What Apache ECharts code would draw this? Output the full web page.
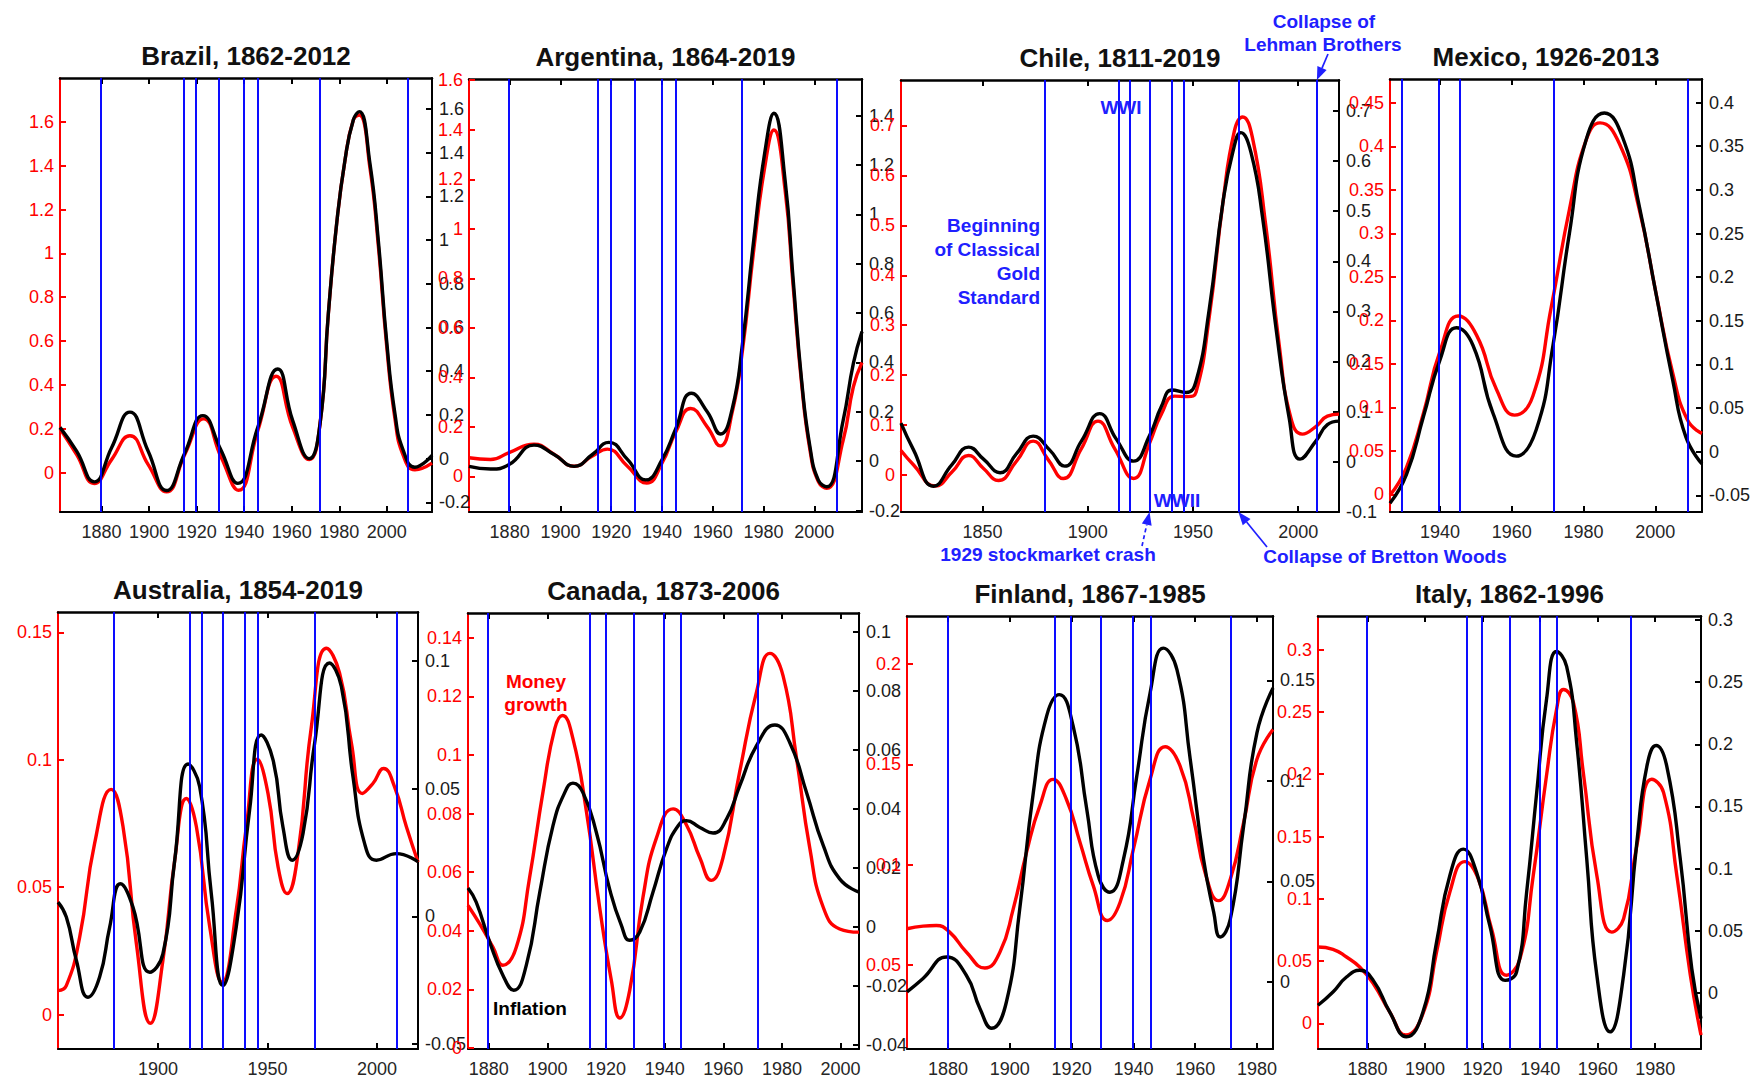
<!DOCTYPE html>
<html><head><meta charset="utf-8">
<script src="https://cdn.jsdelivr.net/npm/echarts@6/dist/echarts.min.js"></script>
<style>html,body{margin:0;padding:0;background:#fff}#c{width:1758px;height:1081px}</style>
</head><body><div id="c"></div>
<script>
// ---------------- DATA ----------------
const eventYears = [1879.8, 1914.6, 1919.8, 1929.4, 1939.8, 1945.6, 1971.6, 2008.9];

const brazilMoney = [[1862.5,0.199],[1869.5,0.082],[1876.9,-0.05],[1884.2,0.059],[1891.9,0.168],[1899.6,0.036],[1907.3,-0.088],[1915,0.082],[1922.9,0.245],[1930.4,0.067],[1937.6,-0.081],[1945.7,0.191],[1953.4,0.439],[1960.4,0.206],[1967.4,0.059],[1971.9,0.223],[1975.4,0.725],[1978.9,1.136],[1982.4,1.425],[1985.9,1.608],[1988.4,1.631],[1992.9,1.389],[1996.4,1.037],[1999.9,0.581],[2003.4,0.247],[2006.9,0.078],[2011.8,0.013],[2019,0.043]];
const brazilInflation = [[1862.5,0.143],[1869.5,0.034],[1876.9,-0.106],[1884.2,0.05],[1891.9,0.213],[1899.6,0.034],[1907.3,-0.146],[1915,0.026],[1922.6,0.197],[1930.1,0.042],[1937.3,-0.113],[1945.7,0.143],[1954.1,0.41],[1960.4,0.174],[1967.4,0.0],[1971.9,0.16],[1975.4,0.664],[1978.9,1.076],[1982.4,1.366],[1985.9,1.549],[1988.4,1.587],[1992.9,1.35],[1996.4,0.999],[1999.9,0.541],[2003.4,0.206],[2006.9,0.038],[2011.8,-0.039],[2019,0.015]];
const brazilYearTicks = [1880,1900,1920,1940,1960,1980,2000];
const brazilMoneyTicks = [0,0.2,0.4,0.6,0.8,1,1.2,1.4,1.6];
const brazilInflationTicks = [-0.2,0,0.2,0.4,0.6,0.8,1,1.2,1.4,1.6];

const argentinaMoney = [[1864,0.075],[1872.5,0.068],[1879.8,0.096],[1889.6,0.13],[1897.5,0.089],[1905.4,0.041],[1912.6,0.082],[1918.5,0.11],[1926.4,0.041],[1934,-0.027],[1940.1,0.055],[1945.4,0.178],[1951.3,0.274],[1957.9,0.199],[1962.9,0.123],[1967.7,0.26],[1971.7,0.507],[1976.2,0.918],[1980.5,1.25],[1984.1,1.399],[1988.5,1.157],[1991.7,0.766],[1995,0.376],[1998.3,0.107],[2001.6,-0.021],[2004.9,-0.048],[2011.4,0.147],[2015.4,0.362],[2018.8,0.46]];
const argentinaInflation = [[1864,-0.021],[1872.5,-0.032],[1879.8,-0.014],[1889.6,0.065],[1897.5,0.027],[1905.4,-0.021],[1912.6,0.027],[1919.1,0.076],[1926.4,0.007],[1933.6,-0.076],[1940.1,0.007],[1945.4,0.13],[1951.6,0.275],[1957.9,0.199],[1963.1,0.11],[1967.7,0.213],[1971.7,0.474],[1976.2,0.9],[1980.5,1.25],[1984.1,1.409],[1988.5,1.139],[1991.7,0.734],[1995,0.329],[1998.3,0.058],[2001.6,-0.077],[2004.9,-0.104],[2011.4,0.166],[2015.4,0.396],[2018.8,0.525]];
const argentinaYearTicks = [1880,1900,1920,1940,1960,1980,2000];
const argentinaMoneyTicks = [0,0.2,0.4,0.6,0.8,1,1.2,1.4,1.6];
const argentinaInflationTicks = [-0.2,0,0.2,0.4,0.6,0.8,1,1.2,1.4];

const chileMoney = [[1811.3,0.049],[1817.3,0.02],[1827.6,-0.022],[1835.5,0.006],[1843.4,0.039],[1850.5,0.013],[1857.6,-0.011],[1866.2,0.028],[1874.1,0.068],[1881.2,0.031],[1888.4,-0.007],[1897,0.053],[1904.9,0.108],[1912.8,0.053],[1921.8,-0.007],[1929.4,0.064],[1935,0.122],[1941.3,0.158],[1947.6,0.157],[1951.5,0.166],[1957.8,0.318],[1964.2,0.544],[1969.7,0.689],[1973.6,0.717],[1978.3,0.675],[1984.6,0.5],[1991,0.26],[1996.5,0.115],[2002,0.082],[2008.4,0.097],[2013.9,0.118],[2019.4,0.122]];
const chileInflation = [[1811.3,0.077],[1817.3,0.023],[1826.8,-0.049],[1835.5,-0.006],[1843.4,0.029],[1850.5,0.005],[1858.4,-0.022],[1866.2,0.016],[1874.1,0.051],[1882,0.023],[1889.1,-0.009],[1897,0.041],[1905.7,0.096],[1913.6,0.045],[1921.8,0.001],[1929.4,0.052],[1935,0.11],[1940.1,0.143],[1946.8,0.138],[1951.5,0.161],[1957.8,0.306],[1964.2,0.516],[1968.9,0.617],[1972.8,0.657],[1977.6,0.617],[1983.1,0.487],[1989.4,0.269],[1995.7,0.088],[2000.9,0.005],[2008.4,0.041],[2013.9,0.074],[2019.4,0.081]];
const chileYearTicks = [1850,1900,1950,2000];
const chileMoneyTicks = [0,0.1,0.2,0.3,0.4,0.5,0.6,0.7];
const chileInflationTicks = [-0.1,0,0.1,0.2,0.3,0.4,0.5,0.6,0.7];

const mexicoMoney = [[1926.1,-0.001],[1930.7,0.031],[1935.4,0.093],[1940,0.164],[1945.1,0.205],[1950.2,0.183],[1955.7,0.121],[1960.8,0.091],[1965.9,0.113],[1971,0.215],[1976.1,0.328],[1980.7,0.407],[1984.6,0.427],[1990,0.403],[1995.5,0.328],[2000.2,0.231],[2004.8,0.14],[2009,0.085],[2013,0.07]];
const mexicoInflation = [[1926.1,-0.059],[1930.7,-0.026],[1935.4,0.04],[1940,0.105],[1944.6,0.142],[1949.2,0.122],[1954.8,0.044],[1961.3,-0.005],[1966.8,0.025],[1971.5,0.122],[1976.1,0.251],[1980.7,0.357],[1985.8,0.388],[1990.9,0.36],[1995.5,0.282],[2000.2,0.181],[2004.8,0.083],[2008.5,0.017],[2013,-0.014]];
const mexicoYearTicks = [1940,1960,1980,2000];
const mexicoMoneyTicks = [0,0.05,0.1,0.15,0.2,0.25,0.3,0.35,0.4,0.45];
const mexicoInflationTicks = [-0.05,0,0.05,0.1,0.15,0.2,0.25,0.3,0.35,0.4];

const australiaMoney = [[1854.3,0.0094],[1858.1,0.0114],[1864.2,0.0304],[1871,0.0671],[1878.6,0.0884],[1884,0.0737],[1890.1,0.0278],[1896.5,-0.0034],[1902.2,0.0212],[1907.6,0.0606],[1912.9,0.0848],[1917.5,0.0737],[1923.6,0.0344],[1929.3,0.0127],[1935.7,0.0409],[1940.3,0.0737],[1945.3,0.1002],[1950.2,0.0868],[1954.8,0.058],[1958.9,0.0475],[1963.9,0.0632],[1970,0.113],[1976.9,0.1438],[1982.9,0.134],[1988.3,0.1065],[1993.3,0.0868],[1998.1,0.0907],[2003,0.0966],[2008,0.0894],[2013.4,0.0737],[2018.7,0.0599]];
const australiaInflation = [[1854.3,0.0056],[1858.1,-0.0003],[1862.7,-0.0173],[1868,-0.0317],[1873.3,-0.0238],[1877.9,-0.0042],[1882.8,0.0128],[1888.5,0.0037],[1896.2,-0.0219],[1902.2,-0.0147],[1907.6,0.022],[1913.7,0.0597],[1919,0.0508],[1924.3,0.0089],[1929.6,-0.0271],[1935.7,-0.0042],[1941.8,0.0417],[1947.1,0.0711],[1952.5,0.0613],[1957,0.0351],[1961.3,0.022],[1966.2,0.0325],[1971.5,0.0679],[1978.3,0.0993],[1983.7,0.0901],[1989,0.0548],[1994.3,0.0286],[1999.7,0.022],[2008.8,0.0246],[2018.7,0.0214]];
const australiaYearTicks = [1900,1950,2000];
const australiaMoneyTicks = [0,0.05,0.1,0.15];
const australiaInflationTicks = [-0.05,0,0.05,0.1];

const canadaMoney = [[1872.9,0.0486],[1876.9,0.0423],[1881.4,0.0344],[1884.8,0.0282],[1889.4,0.0344],[1893.9,0.0581],[1898.5,0.0875],[1902.5,0.109],[1905.1,0.1135],[1908.7,0.1056],[1913.3,0.0807],[1917.8,0.048],[1921.8,0.0231],[1924.7,0.0102],[1928.1,0.0198],[1932.6,0.0514],[1937.2,0.0717],[1942.9,0.0816],[1947.4,0.0762],[1952,0.0649],[1955.9,0.0572],[1959.9,0.0649],[1965.6,0.0943],[1971.3,0.1214],[1975.9,0.1347],[1980.4,0.127],[1985,0.0988],[1989.5,0.0683],[1994.1,0.048],[1999.7,0.0406],[2006.3,0.0395]];
const canadaInflation = [[1872.9,0.0132],[1875.7,0.0084],[1880.3,-0.0051],[1884.8,-0.0163],[1888.5,-0.0214],[1892.8,-0.0129],[1897.4,0.0118],[1901.9,0.0343],[1905.9,0.0455],[1908.7,0.0487],[1912.1,0.0455],[1916.7,0.032],[1921.2,0.0129],[1925.2,0.0006],[1928.1,-0.0045],[1931.5,-0.0017],[1936,0.0118],[1940.6,0.0264],[1944.6,0.0343],[1947.4,0.036],[1952,0.0337],[1956.5,0.0318],[1961.1,0.0365],[1965.6,0.0478],[1971.3,0.0613],[1977.6,0.0684],[1982.7,0.0624],[1988.4,0.0455],[1994.1,0.0276],[1999.7,0.0163],[2006.3,0.0118]];
const canadaYearTicks = [1880,1900,1920,1940,1960,1980,2000];
const canadaMoneyTicks = [0,0.02,0.04,0.06,0.08,0.1,0.12,0.14];
const canadaInflationTicks = [-0.04,-0.02,0,0.02,0.04,0.06,0.08,0.1];

const finlandMoney = [[1866.7,0.068],[1871.9,0.0693],[1876.2,0.0696],[1880.5,0.0663],[1885.9,0.0564],[1891.9,0.0484],[1896.8,0.0564],[1901.1,0.0779],[1905.4,0.1061],[1909.7,0.1293],[1914,0.1425],[1918.3,0.1326],[1922.7,0.1111],[1927,0.0895],[1931.6,0.0721],[1935.7,0.0812],[1940,0.1077],[1945.4,0.1425],[1950.3,0.1588],[1955.1,0.1492],[1959.5,0.1227],[1963.2,0.0961],[1967.6,0.082],[1971.4,0.0928],[1975.7,0.121],[1980,0.1525],[1985.2,0.1674]];
const finlandInflation = [[1866.7,-0.005],[1871.9,0.0017],[1879.5,0.0124],[1885.9,0.0033],[1890.3,-0.0132],[1894.1,-0.0231],[1898.9,-0.0099],[1903.2,0.0363],[1907.6,0.0942],[1911.9,0.1322],[1916,0.1429],[1920.5,0.1272],[1924.9,0.0859],[1928.6,0.0529],[1932.4,0.0446],[1936.8,0.0611],[1941.1,0.1024],[1945.4,0.1437],[1949.7,0.166],[1954.1,0.1553],[1958.4,0.1107],[1962.7,0.0611],[1966,0.0347],[1968.1,0.0223],[1971.4,0.0314],[1975.7,0.0776],[1980,0.1239],[1985.2,0.1462]];
const finlandYearTicks = [1880,1900,1920,1940,1960,1980];
const finlandMoneyTicks = [0.05,0.1,0.15,0.2];
const finlandInflationTicks = [0,0.05,0.1,0.15];

const italyMoney = [[1862.8,0.0613],[1868,0.0595],[1872.7,0.0533],[1877.3,0.0453],[1882,0.032],[1887.7,0.0093],[1893.3,-0.0093],[1899.3,0.008],[1904,0.0573],[1908.6,0.1053],[1913.8,0.1299],[1918.5,0.116],[1923.1,0.076],[1928.3,0.0387],[1933,0.052],[1937.6,0.1187],[1942.2,0.1987],[1945.7,0.252],[1948.1,0.268],[1951.6,0.2573],[1955,0.2013],[1959.7,0.1187],[1964.9,0.0733],[1969,0.084],[1973.6,0.1427],[1978.8,0.196],[1982.9,0.1853],[1987.5,0.1187],[1992.2,0.0387],[1995.9,-0.0093]];
const italyInflation = [[1862.8,-0.0099],[1868,0.0008],[1872.7,0.0128],[1877.3,0.0182],[1882,0.0101],[1887.7,-0.0152],[1893.5,-0.0353],[1899.3,-0.0152],[1904,0.0409],[1908.6,0.0943],[1913.3,0.1157],[1917.9,0.097],[1922.5,0.0542],[1927.8,0.0101],[1931.8,0.0168],[1935.3,0.0809],[1938.8,0.1611],[1942.2,0.2358],[1945.7,0.2746],[1949.2,0.2626],[1952.7,0.2011],[1956.2,0.1076],[1959.7,0.0142],[1964.3,-0.0313],[1969,0.0142],[1973.6,0.121],[1977.1,0.1824],[1980.3,0.199],[1984,0.1824],[1988.7,0.1076],[1992.7,0.0195],[1995.9,-0.0206]];
const italyYearTicks = [1880,1900,1920,1940,1960,1980];
const italyMoneyTicks = [0,0.05,0.1,0.15,0.2,0.25,0.3];
const italyInflationTicks = [0,0.05,0.1,0.15,0.2,0.25,0.3];

const panelDefs = [
  {title:'Brazil, 1862-2012', money:brazilMoney, inflation:brazilInflation, yearTicks:brazilYearTicks, moneyTicks:brazilMoneyTicks, inflationTicks:brazilInflationTicks, yearRange:[1862.5,2019], moneyRange:[-0.18,1.80], inflationRange:[-0.244,1.741]},
  {title:'Argentina, 1864-2019', money:argentinaMoney, inflation:argentinaInflation, yearTicks:argentinaYearTicks, moneyTicks:argentinaMoneyTicks, inflationTicks:argentinaInflationTicks, yearRange:[1864,2018.8], moneyRange:[-0.144,1.605], inflationRange:[-0.206,1.548]},
  {title:'Chile, 1811-2019', money:chileMoney, inflation:chileInflation, yearTicks:chileYearTicks, moneyTicks:chileMoneyTicks, inflationTicks:chileInflationTicks, yearRange:[1811.3,2019.4], moneyRange:[-0.074,0.791], inflationRange:[-0.1005,0.762]},
  {title:'Mexico, 1926-2013', money:mexicoMoney, inflation:mexicoInflation, yearTicks:mexicoYearTicks, moneyTicks:mexicoMoneyTicks, inflationTicks:mexicoInflationTicks, yearRange:[1926.1,2013], moneyRange:[-0.0204,0.4775], inflationRange:[-0.069,0.427]},
  {title:'Australia, 1854-2019', money:australiaMoney, inflation:australiaInflation, yearTicks:australiaYearTicks, moneyTicks:australiaMoneyTicks, inflationTicks:australiaInflationTicks, yearRange:[1854.3,2018.7], moneyRange:[-0.0135,0.158], inflationRange:[-0.052,0.1193]},
  {title:'Canada, 1873-2006', money:canadaMoney, inflation:canadaInflation, yearTicks:canadaYearTicks, moneyTicks:canadaMoneyTicks, inflationTicks:canadaInflationTicks, yearRange:[1872.9,2006.3], moneyRange:[-0.0004,0.1485], inflationRange:[-0.0413,0.1063]},
  {title:'Finland, 1867-1985', money:finlandMoney, inflation:finlandInflation, yearTicks:finlandYearTicks, moneyTicks:finlandMoneyTicks, inflationTicks:finlandInflationTicks, yearRange:[1866.7,1985.2], moneyRange:[0.008,0.224], inflationRange:[-0.0334,0.182]},
  {title:'Italy, 1862-1996', money:italyMoney, inflation:italyInflation, yearTicks:italyYearTicks, moneyTicks:italyMoneyTicks, inflationTicks:italyInflationTicks, yearRange:[1862.8,1995.9], moneyRange:[-0.0205,0.327], inflationRange:[-0.0451,0.3032]}
];

// ---------------- LAYOUT ----------------
const boxes = [[60,78,432,512],[469,79,862,512],[901,80,1339,512],[1390,79,1702,512],
               [58,612,418,1049],[468,613,859,1049],[907,616,1273,1049],[1318,616,1701,1049]];
const FONT = '"Liberation Sans", Arial, sans-serif';
const RED = '#ff0000', BLACK = '#000000', BLUE = '#0000ff', ABLUE = '#2020ff';
const fmt = v => String(Math.round(v * 10000) / 10000);

const grid = [], xAxis = [], yAxis = [], series = [], graphic = [];
panelDefs.forEach((p, i) => {
  const [l, t, r, b] = boxes[i];
  grid.push({left: l, top: t, width: r - l, height: b - t, containLabel: false});
  const xCommon = {type: 'value', gridIndex: i, min: p.yearRange[0], max: p.yearRange[1], splitLine: {show: false}};
  xAxis.push(Object.assign({}, xCommon, {position: 'bottom',
    axisLine: {onZero: false, lineStyle: {color: BLACK, width: 2}},
    axisTick: {inside: true, length: 6, customValues: p.yearTicks, lineStyle: {color: BLACK, width: 2}},
    axisLabel: {customValues: p.yearTicks, formatter: v => String(v), color: '#262626', fontSize: 18, fontFamily: FONT, margin: 11}}));
  xAxis.push(Object.assign({}, xCommon, {position: 'top',
    axisLine: {onZero: false, lineStyle: {color: BLACK, width: 2.5}},
    axisTick: {inside: true, length: 6, customValues: p.yearTicks, lineStyle: {color: BLACK, width: 2}},
    axisLabel: {show: false}}));
  yAxis.push({type: 'value', gridIndex: i, position: 'left', min: p.moneyRange[0], max: p.moneyRange[1],
    splitLine: {show: false},
    axisLine: {show: true, onZero: false, lineStyle: {color: RED, width: 2}},
    axisTick: {show: true, inside: true, length: 6, customValues: p.moneyTicks, lineStyle: {color: RED, width: 2}},
    axisLabel: {customValues: p.moneyTicks, formatter: fmt, color: RED, fontSize: 18, fontFamily: FONT, margin: 6}});
  yAxis.push({type: 'value', gridIndex: i, position: 'right', min: p.inflationRange[0], max: p.inflationRange[1],
    splitLine: {show: false},
    axisLine: {show: true, onZero: false, lineStyle: {color: BLACK, width: 2}},
    axisTick: {show: true, inside: true, length: 6, customValues: p.inflationTicks, lineStyle: {color: BLACK, width: 2}},
    axisLabel: {customValues: p.inflationTicks, formatter: fmt, color: '#1a1a1a', fontSize: 18, fontFamily: FONT, margin: 7}});
  const ev = eventYears.filter(y => y > p.yearRange[0] && y < p.yearRange[1]);
  series.push({type: 'line', xAxisIndex: 2 * i, yAxisIndex: 2 * i, data: p.money, silent: true, z: 1,
    showSymbol: false, lineStyle: {opacity: 0, width: 0},
    markLine: {silent: true, symbol: ['none', 'none'], animation: false, label: {show: false},
      lineStyle: {color: BLUE, width: 1.9, type: 'solid'}, emphasis: {disabled: true},
      data: ev.map(y => ({xAxis: y}))}});
  series.push({type: 'line', name: 'Money growth', xAxisIndex: 2 * i, yAxisIndex: 2 * i, data: p.money,
    smooth: true, showSymbol: false, silent: true, z: 3, lineStyle: {color: RED, width: 3.4}, itemStyle: {color: RED}});
  series.push({type: 'line', name: 'Inflation', xAxisIndex: 2 * i, yAxisIndex: 2 * i + 1, data: p.inflation,
    smooth: true, showSymbol: false, silent: true, z: 4, lineStyle: {color: BLACK, width: 3.4}, itemStyle: {color: BLACK}});
  graphic.push({type: 'text', x: (l + r) / 2, y: t - 22, silent: true,
    style: {text: p.title, font: 'bold 26px ' + FONT, fill: '#111', align: 'center', verticalAlign: 'middle'}});
});

const chart = echarts.init(document.getElementById('c'), null, {renderer: 'svg'});
chart.setOption({animation: false, backgroundColor: '#fff', grid, xAxis, yAxis, series});

// ---------------- ANNOTATIONS ----------------
function txt(text, x, y, color, align) {
  return {type: 'text', x, y, silent: true, z: 50,
    style: {text, font: 'bold 19px ' + FONT, fill: color, align: align || 'center', verticalAlign: 'middle'}};
}
function arrow(x1, y1, x2, y2, dashed) {
  const a = Math.atan2(y2 - y1, x2 - x1), L = 13, W = 5;
  const bx = x2 - L * Math.cos(a), by = y2 - L * Math.sin(a);
  return [
    {type: 'line', silent: true, z: 50, shape: {x1, y1, x2: bx, y2: by},
      style: {stroke: ABLUE, lineWidth: 1.7, lineDash: dashed ? [4, 3] : null}},
    {type: 'polygon', silent: true, z: 50, shape: {points: [[x2, y2],
      [bx - W * Math.sin(a), by + W * Math.cos(a)], [bx + W * Math.sin(a), by - W * Math.cos(a)]]},
      style: {fill: ABLUE}}
  ];
}
const chileIdx = 2, cb = boxes[chileIdx];
const cx = y => chart.convertToPixel({xAxisIndex: 2 * chileIdx}, y);
graphic.push(txt('Collapse of', 1324, 21, ABLUE));
graphic.push(txt('Lehman Brothers', 1323, 44, ABLUE));
graphic.push(...arrow(1328, 54, cx(2008.9), cb[1], false));
graphic.push(txt('WWI', 1121, 107, ABLUE));
graphic.push(txt('Beginning', 1040, 225, ABLUE, 'right'));
graphic.push(txt('of Classical', 1040, 249, ABLUE, 'right'));
graphic.push(txt('Gold', 1040, 273, ABLUE, 'right'));
graphic.push(txt('Standard', 1040, 297, ABLUE, 'right'));
graphic.push(txt('WWII', 1177, 500, ABLUE));
graphic.push(txt('1929 stockmarket crash', 1048, 554, ABLUE));
graphic.push(...arrow(1142, 546, cx(1929.4), cb[3], true));
graphic.push(txt('Collapse of Bretton Woods', 1385, 556, ABLUE));
graphic.push(...arrow(1267, 547, cx(1971.6), cb[3], false));
graphic.push(txt('Money', 536, 681, RED));
graphic.push(txt('growth', 536, 704, RED));
graphic.push(txt('Inflation', 530, 1008, BLACK));

chart.setOption({graphic});
</script>
</body></html>
